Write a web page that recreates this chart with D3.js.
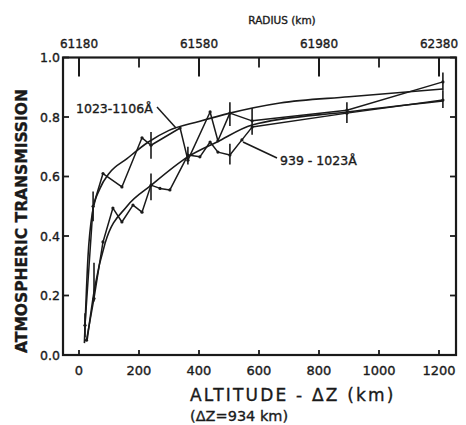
<!DOCTYPE html>
<html>
<head>
<meta charset="utf-8">
<script src="https://cdn.jsdelivr.net/npm/d3@7"></script>
<style>
  html, body { margin: 0; padding: 0; background: #fff; }
  svg { display: block; }
  text { font-family: "DejaVu Sans", "Liberation Sans", sans-serif; fill: #1a1a1a; stroke: #1a1a1a; stroke-width: 0.35px; }
</style>
</head>
<body>
<svg id="chart" width="466" height="425"></svg>
<script>
// ---- data ----
const altitudeTicks = [0, 200, 400, 600, 800, 1000, 1200];
const radiusTicks = [61180, 61580, 61980, 62380];
const radiusMinorTicks = [61380, 61780, 62180];
const transmissionTicks = [0.0, 0.2, 0.4, 0.6, 0.8, 1.0];

// 1023-1106 Å measured series
const upperAlt = [20, 47, 80, 143, 210, 240, 337, 363, 437, 463, 503, 577, 893, 1213];
const upperT   = [0.10, 0.50, 0.61, 0.565, 0.73, 0.705, 0.763, 0.655, 0.817, 0.72, 0.813, 0.787, 0.823, 0.918];
const upperErrAlt = [20, 47, 240, 363, 503, 577, 1213];
const upperErrLo  = [0.06, 0.45, 0.66, 0.64, 0.77, 0.74, 0.89];
const upperErrHi  = [0.14, 0.55, 0.75, 0.70, 0.85, 0.83, 0.95];

// 939-1023 Å measured series
const lowerAlt = [25, 50, 80, 113, 143, 180, 210, 240, 270, 303, 363, 403, 437, 463, 503, 543, 577, 893, 1213];
const lowerT   = [0.05, 0.19, 0.38, 0.494, 0.447, 0.504, 0.48, 0.571, 0.56, 0.555, 0.672, 0.666, 0.716, 0.682, 0.672, 0.723, 0.766, 0.813, 0.857];
const lowerErrAlt = [50, 240, 503, 893, 1213];
const lowerErrLo  = [0.18, 0.52, 0.64, 0.78, 0.83];
const lowerErrHi  = [0.31, 0.61, 0.71, 0.85, 0.89];

// smooth model curves
const upperFitAlt = [18, 30, 45, 70, 100, 160, 230, 300, 400, 503, 670, 900, 1213];
const upperFitT   = [0.04, 0.33, 0.48, 0.56, 0.61, 0.66, 0.715, 0.755, 0.785, 0.813, 0.847, 0.868, 0.894];
const lowerFitAlt = [27, 53, 87, 160, 240, 363, 460, 577, 893, 1213];
const lowerFitT   = [0.05, 0.23, 0.376, 0.50, 0.57, 0.666, 0.716, 0.773, 0.817, 0.854];

// ---- drawing ----
(function () {
const svg = d3.select("#chart");
const x = d3.scaleLinear().domain([0, 1200]).range([79, 439]);
const xr = d3.scaleLinear().domain([61180, 62380]).range([79, 439]);
const y = d3.scaleLinear().domain([0, 1]).range([355, 57.5]);

const pL = x(-53.3), pR = x(1256.7), pT = y(1), pB = y(0);
const ink = "#1a1a1a";

// frame
svg.append("rect").attr("x", pL).attr("y", pT)
  .attr("width", pR - pL).attr("height", pB - pT)
  .attr("fill", "none").attr("stroke", ink).attr("stroke-width", 2.2);

// bottom ticks (inward)
svg.selectAll(".bt").data(altitudeTicks).enter().append("line")
  .attr("x1", d => x(d)).attr("x2", d => x(d))
  .attr("y1", pB).attr("y2", pB - 5)
  .attr("stroke", ink).attr("stroke-width", 1.8);
svg.selectAll(".bl").data(altitudeTicks).enter().append("text")
  .attr("x", d => x(d)).attr("y", pB + 20)
  .attr("text-anchor", "middle").attr("font-size", 13)
  .text(d => d);

// top ticks
svg.selectAll(".tt").data(radiusTicks).enter().append("line")
  .attr("x1", d => xr(d)).attr("x2", d => xr(d))
  .attr("y1", pT).attr("y2", pT + 19)
  .attr("stroke", ink).attr("stroke-width", 2);
svg.selectAll(".tm").data(radiusMinorTicks).enter().append("line")
  .attr("x1", d => xr(d)).attr("x2", d => xr(d))
  .attr("y1", pT).attr("y2", pT + 10)
  .attr("stroke", ink).attr("stroke-width", 1.8);
svg.selectAll(".tl").data(radiusTicks).enter().append("text")
  .attr("x", d => xr(d)).attr("y", pT - 10)
  .attr("text-anchor", "middle").attr("font-size", 12)
  .text(d => d);
svg.append("text").attr("x", 282).attr("y", 24)
  .attr("text-anchor", "middle").attr("font-size", 10.5)
  .text("RADIUS (km)");

// left/right ticks
svg.selectAll(".lt").data(transmissionTicks).enter().append("line")
  .attr("x1", pL).attr("x2", pL + 6)
  .attr("y1", d => y(d)).attr("y2", d => y(d))
  .attr("stroke", ink).attr("stroke-width", 1.8);
svg.selectAll(".rt").data(transmissionTicks).enter().append("line")
  .attr("x1", pR).attr("x2", pR - 6)
  .attr("y1", d => y(d)).attr("y2", d => y(d))
  .attr("stroke", ink).attr("stroke-width", 1.8);
svg.selectAll(".ll").data(transmissionTicks).enter().append("text")
  .attr("x", pL - 3).attr("y", d => y(d) + 4.5)
  .attr("text-anchor", "end").attr("font-size", 12.5)
  .text(d => d.toFixed(1));

// axis titles
svg.append("text")
  .attr("transform", "translate(27," + 221 + ") rotate(-90)")
  .attr("text-anchor", "middle").attr("font-size", 15.5).attr("font-weight", "bold")
  .attr("stroke-width", 0)
  .text("ATMOSPHERIC TRANSMISSION");
svg.append("text").attr("x", 190).attr("y", 401)
  .attr("font-size", 17).attr("letter-spacing", 2.2)
  .text("ALTITUDE - \u0394Z (km)");
svg.append("text").attr("x", 190).attr("y", 421)
  .attr("font-size", 14.5)
  .text("(\u0394Z=934 km)");

// lines
const lineGen = d3.line().x(d => x(d[0])).y(d => y(d[1]));
const curveGen = d3.line().x(d => x(d[0])).y(d => y(d[1])).curve(d3.curveMonotoneX);

function drawSeries(alts, ts, gen, w) {
  svg.append("path").datum(d3.zip(alts, ts))
    .attr("d", gen).attr("fill", "none")
    .attr("stroke", ink).attr("stroke-width", w).attr("stroke-linejoin", "round");
}
drawSeries(upperFitAlt, upperFitT, curveGen, 1.6);
drawSeries(lowerFitAlt, lowerFitT, curveGen, 1.6);
drawSeries(upperAlt, upperT, lineGen, 1.5);
drawSeries(lowerAlt, lowerT, lineGen, 1.5);

function drawErr(alts, lo, hi) {
  const d = d3.zip(alts, lo, hi);
  svg.selectAll(null).data(d).enter().append("line")
    .attr("x1", e => x(e[0])).attr("x2", e => x(e[0]))
    .attr("y1", e => y(e[1])).attr("y2", e => y(e[2]))
    .attr("stroke", ink).attr("stroke-width", 1.6);
}
drawErr(upperErrAlt, upperErrLo, upperErrHi);
drawErr(lowerErrAlt, lowerErrLo, lowerErrHi);

function drawDots(alts, ts) {
  svg.selectAll(null).data(d3.zip(alts, ts)).enter().append("circle")
    .attr("cx", d => x(d[0])).attr("cy", d => y(d[1])).attr("r", 1.6).attr("fill", ink);
}
drawDots(upperAlt, upperT);
drawDots(lowerAlt, lowerT);

// series labels with leader lines
svg.append("text").attr("x", 76).attr("y", 113).attr("font-size", 12.5)
  .text("1023-1106\u00C5");
svg.append("line").attr("x1", 157).attr("y1", 107).attr("x2", 176).attr("y2", 128)
  .attr("stroke", ink).attr("stroke-width", 1.5);
svg.append("text").attr("x", 280).attr("y", 165).attr("font-size", 12.5)
  .text("939 - 1023\u00C5");
svg.append("line").attr("x1", 277).attr("y1", 158).attr("x2", 243).attr("y2", 142)
  .attr("stroke", ink).attr("stroke-width", 1.5);
})();
</script>
</body>
</html>
